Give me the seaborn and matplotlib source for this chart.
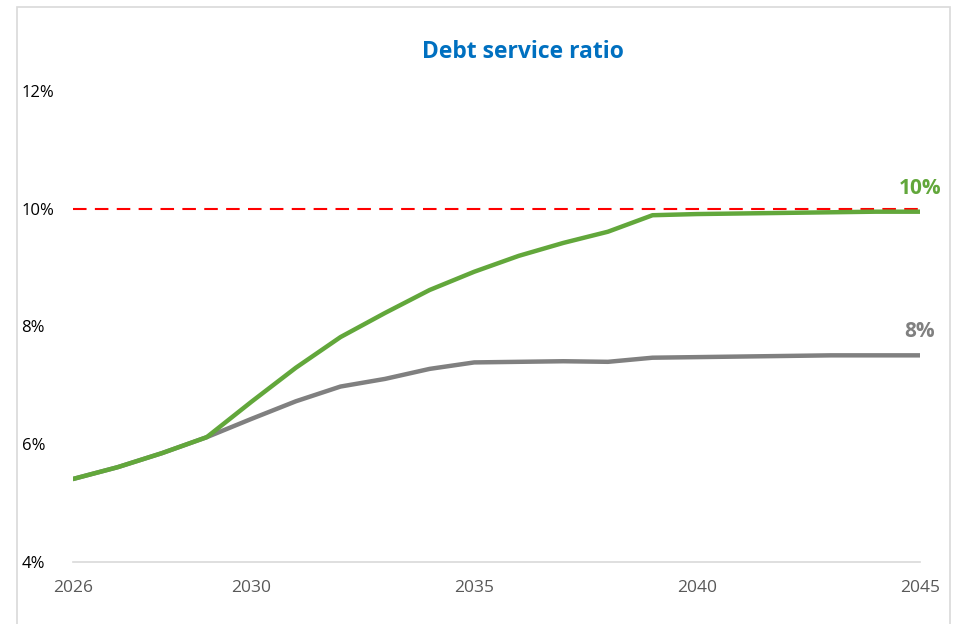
import numpy as np
import pandas as pd
import seaborn as sns
import matplotlib.pyplot as plt
from matplotlib.patches import Rectangle
from matplotlib.ticker import FuncFormatter, MultipleLocator

years = list(range(2026, 2046))
green_vals = [5.41, 5.61, 5.85, 6.12, 6.72, 7.30, 7.82, 8.23, 8.62, 8.93,
              9.20, 9.42, 9.61, 9.89, 9.91, 9.92, 9.93, 9.94, 9.95, 9.95]
grey_vals = [5.41, 5.61, 5.85, 6.12, 6.43, 6.73, 6.98, 7.11, 7.28, 7.39,
             7.40, 7.41, 7.40, 7.47, 7.48, 7.49, 7.50, 7.51, 7.51, 7.51]
threshold = 10
title = 'Debt service ratio'
end_labels = ['10%', '8%']

green = '#62a73b'
grey = '#808080'

sns.set_style('white')
plt.rcParams['font.family'] = ['Open Sans', 'DejaVu Sans']

df = pd.DataFrame({
    'year': years * 2,
    'ratio': grey_vals + green_vals,
    'series': ['grey'] * len(years) + ['green'] * len(years),
})

fig = plt.figure(figsize=(9.55, 6.24), dpi=100)
ax = fig.add_axes([73 / 955, (624 - 562) / 624, (920 - 73) / 955, (562 - 91) / 624])

# threshold line behind the series
ax.axhline(threshold, color='#ff0000', lw=1.5, dashes=(6.5, 4), zorder=1)

sns.lineplot(data=df, x='year', y='ratio', hue='series',
             palette={'grey': grey, 'green': green}, lw=3.2,
             legend=False, ax=ax, zorder=3)

ax.set_xlim(2026, 2045)
ax.set_ylim(4, 12)
ax.set_xlabel('')
ax.set_ylabel('')

ax.xaxis.set_major_locator(plt.FixedLocator([2026, 2030, 2035, 2040, 2045]))
ax.xaxis.set_minor_locator(MultipleLocator(1))
ax.yaxis.set_major_locator(MultipleLocator(2))
ax.yaxis.set_major_formatter(FuncFormatter(lambda v, p: f'{v:.0f}%'))

for s in ['top', 'right', 'left']:
    ax.spines[s].set_visible(False)
ax.spines['bottom'].set_color('#d9d9d9')
ax.spines['bottom'].set_linewidth(1.2)

ax.tick_params(axis='x', which='both', direction='out', length=6, width=1.2,
               color='#d9d9d9', labelsize=12.5, labelcolor='#595959', pad=7)
ax.tick_params(axis='y', length=0, labelsize=12, labelcolor='black', pad=37)
for lab in ax.get_yticklabels():
    lab.set_horizontalalignment('left')

ax.text(2045, green_vals[-1] + 0.22, end_labels[0], color=green,
        fontsize=15, fontweight='bold', ha='center', va='bottom')
ax.text(2045, grey_vals[-1] + 0.22, end_labels[1], color=grey,
        fontsize=15, fontweight='bold', ha='center', va='bottom')

fig.text(523 / 955, 1 - 52 / 624, title, color='#0070c0', fontsize=16.5,
         fontweight='bold', ha='center', va='center')

# outer chart frame
fig.patches.append(Rectangle((17 / 955, -0.01), (950 - 17) / 955, 1 - 7 / 624 + 0.01,
                             transform=fig.transFigure, fill=False,
                             edgecolor='#d9d9d9', lw=1.2))

plt.savefig('out.png', dpi=100)
